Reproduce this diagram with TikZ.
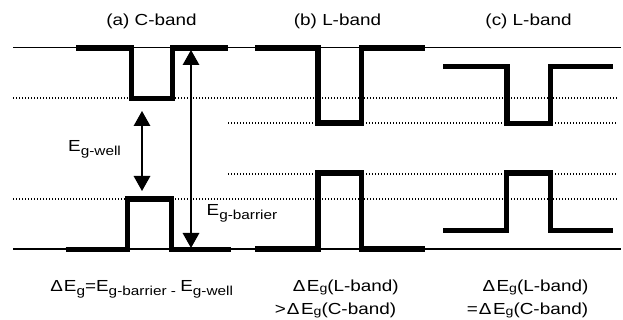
\documentclass[tikz,border=0pt]{standalone}
\usepackage{fontspec}
\setmainfont{Liberation Sans}[FakeStretch=1.18]
\usetikzlibrary{arrows.meta}
\newcommand\lsub[1]{\raisebox{-4pt}{\fontsize{13}{13}\selectfont #1}}
\newcommand\gsub{\raisebox{-1pt}{\fontsize{12}{12}\selectfont g}}
\begin{document}
\begin{tikzpicture}[x=1pt,y=-1pt,
  thinline/.style={line width=1.7pt},
  band/.style={line width=5.5pt},
  dots/.style={line width=1.3pt, dash pattern=on 1.3pt off 1.7pt},
  arr/.style={line width=1.5pt, {Triangle[width=16.5pt,length=15pt]}-{Triangle[width=16.5pt,length=15pt]}},
  lbl/.style={inner sep=0pt, font=\fontsize{16}{18}\selectfont}]
\useasboundingbox (0,0) rectangle (623,320);
% dotted levels
\draw[dots] (13,98) -- (617,98);
\draw[dots] (228,123) -- (617,123);
\draw[dots] (228,174) -- (617,174);
\draw[dots] (13,199) -- (617,199);
% thin band edges
\draw[thinline] (13,47.5) -- (621,47.5);
\draw[thinline] (13,249) -- (621,249);
% (a)
\draw[band] (76,48) -- (131.5,48) -- (131.5,98.5) -- (172.3,98.5) -- (172.3,48) -- (228,48);
\draw[band] (65.7,249.5) -- (127.5,249.5) -- (127.5,199) -- (171.7,199) -- (171.7,249.5) -- (231,249.5);
% (b)
\draw[band] (255,48) -- (318,48) -- (318,123) -- (361.5,123) -- (361.5,48) -- (425,48);
\draw[band] (255,249) -- (318,249) -- (318,173) -- (361.5,173) -- (361.5,249) -- (425,249);
% (c)
\draw[band] (443,66.7) -- (507,66.7) -- (507,123.3) -- (550.5,123.3) -- (550.5,66.7) -- (613,66.7);
\draw[band] (443,230.7) -- (506.5,230.7) -- (506.5,173) -- (550.5,173) -- (550.5,230.7) -- (613,230.7);
% arrows
\coordinate (wt) at (142,111);
\coordinate (wb) at (142,191);
\coordinate (bt) at (191,50);
\coordinate (bb) at (191,248);
\draw[arr] (wt) -- (wb);
\draw[arr] (bt) -- (bb);
% labels
\node[lbl, anchor=base] (ta) at (151.5,26) {(a) C-band};
\node[lbl, anchor=base] (tb) at (337.5,26) {(b) L-band};
\node[lbl, anchor=base] (tc) at (528.5,26) {(c) L-band};
\node[lbl, anchor=base west] (ew) at (68,151.5) {E\lsub{g-well}};
\node[lbl, anchor=base west] (eb) at (206.5,215) {E\lsub{g-barrier}};
\node[lbl, anchor=base] (fa) at (141.7,291) {Δ\kern1pt E\lsub{g}=E\lsub{g-barrier - }E\lsub{g-well}};
\node[lbl, anchor=base] (fb1) at (345.8,291) {Δ\kern1.5pt E\gsub(L-band)};
\node[lbl, anchor=base] (fb2) at (335.5,314) {>\kern1pt Δ\kern1.5pt E\gsub(C-band)};
\node[lbl, anchor=base] (fc1) at (535.5,291) {Δ\kern1.5pt E\gsub(L-band)};
\node[lbl, anchor=base] (fc2) at (527.5,314) {=\kern1pt Δ\kern1.5pt E\gsub(C-band)};
\end{tikzpicture}
\end{document}
